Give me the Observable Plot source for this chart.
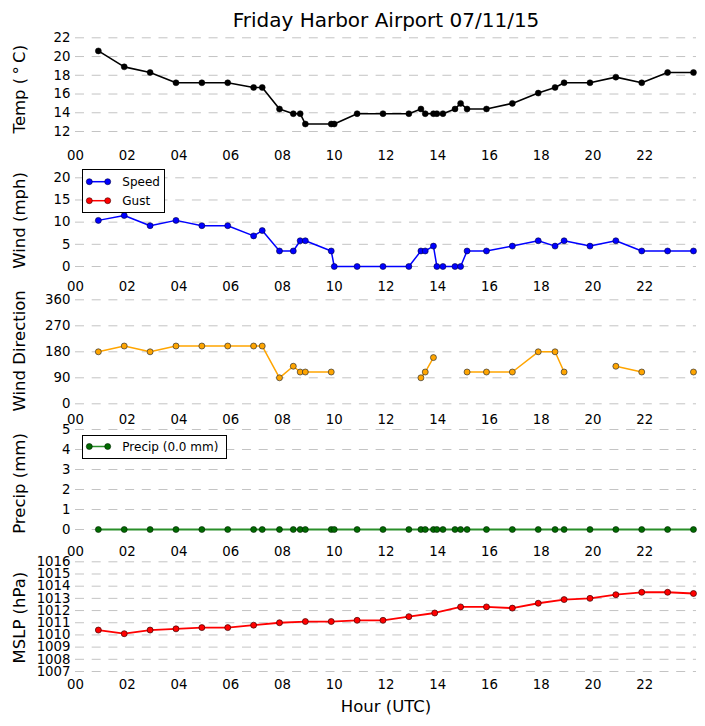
<!DOCTYPE html>
<html>
<head>
<meta charset="utf-8">
<script src="https://cdn.jsdelivr.net/npm/d3@7"></script>
<script src="https://cdn.jsdelivr.net/npm/@observablehq/plot@0.6"></script>
<style>
  html, body { margin: 0; padding: 0; background: #fff; }
  #chart { position: relative; width: 705px; height: 726px; overflow: hidden; background: #fff; font-family: "DejaVu Sans", sans-serif; }
  #chart > svg { position: absolute; left: 0; overflow: visible; }
</style>
</head>
<body>
<div id="chart"></div>
<script>
// ---- Data (Friday Harbor Airport, 07/11/15, UTC) ----
const title = "Friday Harbor Airport 07/11/15";
const times = ["00:53","01:53","02:53","03:53","04:53","05:53","06:53","07:13","07:53","08:25",
               "08:41","08:53","09:53","10:00","10:53","11:53","12:53","13:21","13:31","13:50",
               "13:58","14:12","14:40","14:53","15:08","15:53","16:53","17:53","18:32","18:53",
               "19:53","20:53","21:53","22:53","23:53"];
const tempC = [20.6,18.9,18.3,17.2,17.2,17.2,16.7,16.7,14.4,13.9,
               13.9,12.8,12.8,12.8,13.9,13.9,13.9,14.4,13.9,13.9,
               13.9,13.9,14.4,15.0,14.4,14.4,15.0,16.1,16.7,17.2,
               17.2,17.8,17.2,18.3,18.3];
const windSpeed = [10.4,11.5,9.2,10.4,9.2,9.2,6.9,8.1,3.5,3.5,
                   5.8,5.8,3.5,0,0,0,0,3.5,3.5,4.6,
                   0,0,0,0,3.5,3.5,4.6,5.8,4.6,5.8,
                   4.6,5.8,3.5,3.5,3.5];
const windGust = []; // no gusts reported
const windDir = [180,200,180,200,200,200,200,200,90,130,
                 110,110,110,null,null,null,null,90,110,160,
                 null,null,null,null,110,110,110,180,180,110,
                 null,130,110,null,110];
const precipMm = [0,0,0,0,0,0,0,0,0,0,
                  0,0,0,0,0,0,0,0,0,0,
                  0,0,0,0,0,0,0,0,0,0,
                  0,0,0,0,0];
const mslpTimes = ["00:53","01:53","02:53","03:53","04:53","05:53","06:53","07:53","08:53","09:53",
                   "10:53","11:53","12:53","13:53","14:53","15:53","16:53","17:53","18:53","19:53",
                   "20:53","21:53","22:53","23:53"];
const mslpHpa = [1010.4,1010.1,1010.4,1010.5,1010.6,1010.6,1010.8,1011.0,1011.1,1011.1,
                 1011.2,1011.2,1011.5,1011.8,1012.3,1012.3,1012.2,1012.6,1012.9,1013.0,
                 1013.3,1013.5,1013.5,1013.4];
const hourTicks = [0,2,4,6,8,10,12,14,16,18,20,22];
const tempTicks = [12,14,16,18,20,22];
const windTicks = [0,5,10,15,20];
const dirTicks = [0,90,180,270,360];
const precipTicks = [0,1,2,3,4,5];
const mslpTicks = [1007,1008,1009,1010,1011,1012,1013,1014,1015,1016];
const precipTotal = "0.0";

// ---- Build rows ----
const toHour = t => +t.slice(0, 2) + +t.slice(3) / 60;
const rows = times.map((t, i) => ({
  h: toHour(t), temp: tempC[i], speed: windSpeed[i], dir: windDir[i], precip: precipMm[i]
}));
const gustRows = windGust.map((g, i) => ({h: toHour(times[i]), gust: g}));
const mslpRows = mslpTimes.map((t, i) => ({h: toHour(t), p: mslpHpa[i]}));

const chart = document.getElementById("chart");
const fmt = d => String(d).padStart(2, "0");
const FONT = "DejaVu Sans";

function panel(cfg) {
  const height = cfg.svgBottom - cfg.svgTop;
  const svg = Plot.plot({
    width: 705,
    height,
    marginLeft: 75,
    marginRight: 9,
    marginTop: cfg.yTop - cfg.svgTop,
    marginBottom: cfg.svgBottom - cfg.yBottom,
    x: {domain: [0, 24], axis: null},
    y: {domain: cfg.domain, axis: null},
    style: {fontFamily: FONT, fontSize: "13.3px", background: "transparent", color: "#000", overflow: "visible"},
    marks: [
      Plot.gridY({ticks: cfg.yTicks, stroke: "#c4c4c4", strokeOpacity: 1, strokeWidth: 1, strokeDasharray: "9,7.7"}),
      Plot.axisY({ticks: cfg.yTicks, tickSize: 0, tickPadding: 5, tickFormat: d => String(d), label: null, fill: "#000"}),
      Plot.axisX({ticks: hourTicks, tickSize: 0, tickPadding: cfg.xPad, tickFormat: fmt, label: null, fill: "#000"}),
      Plot.text([cfg.ylabel], {frameAnchor: "left", textAnchor: "middle", lineAnchor: "middle",
        dx: -55.5, dy: cfg.ylabelDy, rotate: -90, fontSize: 16.5, fill: "#000", text: d => d}),
      ...cfg.marks
    ]
  });
  svg.style.top = cfg.svgTop + "px";
  chart.appendChild(svg);
}

// Temperature
panel({
  svgTop: 0, svgBottom: 170, yTop: 37.3, yBottom: 131, domain: [12, 22], yTicks: tempTicks,
  xPad: 18.7, ylabel: "Temp (\u2009\u00B0\u2009C)", ylabelDy: 4.5,
  marks: [
    Plot.text([title], {frameAnchor: "top", textAnchor: "middle", lineAnchor: "middle", dy: -17.5, fontSize: 20, fill: "#000", text: d => d}),
    Plot.line(rows, {x: "h", y: "temp", stroke: "#000", strokeWidth: 1.6}),
    Plot.dot(rows, {x: "h", y: "temp", r: 3, fill: "#000", stroke: "#000", strokeWidth: 0.5})
  ]
});

// Wind speed
panel({
  svgTop: 165, svgBottom: 300, yTop: 177.3, yBottom: 266, domain: [0, 20], yTicks: windTicks,
  xPad: 15.4, ylabel: "Wind (mph)", ylabelDy: -1.7,
  marks: [
    Plot.line(rows, {x: "h", y: "speed", stroke: "#0000ff", strokeWidth: 1.5}),
    Plot.dot(rows, {x: "h", y: "speed", r: 3, fill: "#0000ff", stroke: "#000040", strokeWidth: 0.6}),
    Plot.line(gustRows, {x: "h", y: "gust", stroke: "#ff0000", strokeWidth: 1.5}),
    Plot.dot(gustRows, {x: "h", y: "gust", r: 3, fill: "#ff0000", stroke: "#400000", strokeWidth: 0.6})
  ]
});

// Wind direction
panel({
  svgTop: 290, svgBottom: 430, yTop: 299.3, yBottom: 403.3, domain: [0, 360], yTicks: dirTicks,
  xPad: 10.6, ylabel: "Wind Direction", ylabelDy: -1,
  marks: [
    Plot.line(rows, {x: "h", y: "dir", stroke: "#ffa500", strokeWidth: 1.5}),
    Plot.dot(rows, {x: "h", y: "dir", r: 3, fill: "#ffa500", stroke: "#333", strokeWidth: 0.7})
  ]
});

// Precipitation
panel({
  svgTop: 420, svgBottom: 560, yTop: 429, yBottom: 529, domain: [0, 5], yTicks: precipTicks,
  xPad: 17, ylabel: "Precip (mm)", ylabelDy: 4,
  marks: [
    Plot.line(rows, {x: "h", y: "precip", stroke: "#2a8f2a", strokeWidth: 1.8}),
    Plot.dot(rows, {x: "h", y: "precip", r: 3, fill: "#006a00", stroke: "#002000", strokeWidth: 0.6})
  ]
});

// Sea-level pressure
panel({
  svgTop: 550, svgBottom: 726, yTop: 561.3, yBottom: 671, domain: [1007, 1016], yTicks: mslpTicks,
  xPad: 7.7, ylabel: "MSLP (hPa)", ylabelDy: 1,
  marks: [
    Plot.text(["Hour (UTC)"], {frameAnchor: "bottom", textAnchor: "middle", lineAnchor: "middle", dy: 35.2, fontSize: 16.5, fill: "#000", text: d => d}),
    Plot.line(mslpRows, {x: "h", y: "p", stroke: "#ff0000", strokeWidth: 1.8}),
    Plot.dot(mslpRows, {x: "h", y: "p", r: 3, fill: "#ff0000", stroke: "#400000", strokeWidth: 0.7})
  ]
});

// ---- Legends ----
function legend(left, top, w, h, entries) {
  const svg = d3.create("svg")
    .attr("width", w).attr("height", h)
    .style("top", top + "px").style("left", left + "px")
    .style("position", "absolute");
  svg.append("rect").attr("x", 0.5).attr("y", 0.5).attr("width", w - 1).attr("height", h - 1)
    .attr("fill", "#fff").attr("stroke", "#000").attr("stroke-width", 1);
  for (const e of entries) {
    svg.append("line").attr("x1", 7.3).attr("x2", 25.7).attr("y1", e.cy).attr("y2", e.cy)
      .attr("stroke", e.line).attr("stroke-width", 1.5);
    for (const cx of [7.3, 25.7]) {
      svg.append("circle").attr("cx", cx).attr("cy", e.cy).attr("r", 3)
        .attr("fill", e.fill).attr("stroke", e.edge).attr("stroke-width", 0.6);
    }
    svg.append("text").attr("x", 40.3).attr("y", e.cy).attr("dy", "0.36em")
      .attr("font-family", FONT).attr("font-size", 12).attr("fill", "#000").text(e.label);
  }
  chart.appendChild(svg.node());
}
legend(82, 169, 83, 44, [
  {label: "Speed", line: "#0000ff", fill: "#0000ff", edge: "#000040", cy: 12.7},
  {label: "Gust", line: "#ff0000", fill: "#ff0000", edge: "#400000", cy: 31.7}
]);
legend(82, 435, 145, 24, [
  {label: `Precip (${precipTotal} mm)`, line: "#2a8f2a", fill: "#006a00", edge: "#002000", cy: 11.5}
]);
</script>
</body>
</html>
